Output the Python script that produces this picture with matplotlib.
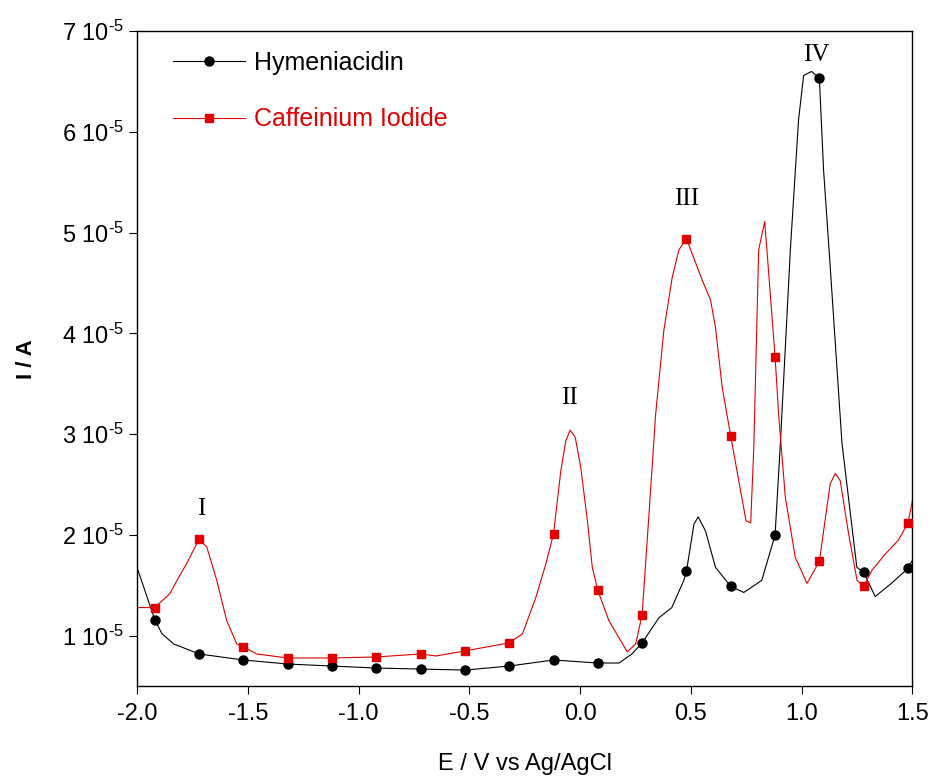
import numpy as np
import matplotlib.pyplot as plt
from matplotlib.ticker import FixedLocator, FuncFormatter

# current in units of 1e-5 A, potential in V
hym_curve_x = [-2.0, -1.92, -1.887, -1.835, -1.72, -1.52, -1.32, -1.12, -0.92, -0.72,
               -0.52, -0.32, -0.12, 0.08, 0.176, 0.234, 0.28, 0.356, 0.414, 0.468,
               0.48, 0.514, 0.533, 0.566, 0.611, 0.68, 0.739, 0.82, 0.88, 0.904,
               0.949, 0.986, 1.009, 1.045, 1.08, 1.099, 1.129, 1.182, 1.249, 1.28,
               1.332, 1.405, 1.48, 1.5]
hym_curve_y = [1.68, 1.16, 1.02, 0.92, 0.82, 0.76, 0.72, 0.70, 0.68, 0.67,
               0.66, 0.70, 0.76, 0.73, 0.73, 0.82, 0.93, 1.18, 1.28, 1.55,
               1.64, 2.11, 2.18, 2.04, 1.68, 1.49, 1.43, 1.55, 2.00, 2.91,
               4.83, 6.12, 6.56, 6.60, 6.53, 5.62, 4.66, 2.91, 1.68, 1.63,
               1.39, 1.52, 1.67, 1.75]

caf_curve_x = [-2.0, -1.92, -1.851, -1.812, -1.775, -1.72, -1.685, -1.64, -1.595, -1.55,
               -1.52, -1.46, -1.32, -1.12, -0.92, -0.72, -0.65, -0.52, -0.32, -0.26,
               -0.2, -0.155, -0.12, -0.087, -0.064, -0.045, -0.022, 0.003, 0.033, 0.055,
               0.08, 0.13, 0.213, 0.251, 0.28, 0.311, 0.341, 0.378, 0.416, 0.446,
               0.48, 0.506, 0.551, 0.589, 0.611, 0.641, 0.68, 0.716, 0.749, 0.77,
               0.784, 0.806, 0.833, 0.848, 0.88, 0.896, 0.926, 0.971, 1.024, 1.047,
               1.08, 1.129, 1.152, 1.174, 1.212, 1.25, 1.28, 1.317, 1.377, 1.437,
               1.48, 1.5]
caf_curve_y = [1.28, 1.28, 1.42, 1.58, 1.72, 1.96, 1.88, 1.55, 1.15, 0.92,
               0.89, 0.82, 0.78, 0.78, 0.79, 0.82, 0.80, 0.85, 0.93, 1.02,
               1.38, 1.71, 2.01, 2.64, 2.94, 3.04, 2.97, 2.67, 2.14, 1.68,
               1.45, 1.15, 0.84, 0.92, 1.21, 2.21, 3.20, 4.03, 4.56, 4.83,
               4.94, 4.79, 4.53, 4.33, 4.06, 3.47, 2.98, 2.54, 2.14, 2.12,
               2.87, 4.83, 5.11, 4.69, 3.77, 3.20, 2.38, 1.78, 1.52, 1.61,
               1.74, 2.51, 2.61, 2.54, 2.01, 1.55, 1.49, 1.65, 1.81, 1.95,
               2.12, 2.34]

marker_x = [-1.92, -1.72, -1.52, -1.32, -1.12, -0.92, -0.72, -0.52, -0.32,
            -0.12, 0.08, 0.28, 0.48, 0.68, 0.88, 1.08, 1.28, 1.48]
hym_marker_y = [1.16, 0.82, 0.76, 0.72, 0.70, 0.68, 0.67, 0.66, 0.70,
                0.76, 0.73, 0.93, 1.64, 1.49, 2.00, 6.53, 1.63, 1.67]
caf_marker_y = [1.28, 1.96, 0.89, 0.78, 0.78, 0.79, 0.82, 0.85, 0.93,
                2.01, 1.45, 1.21, 4.94, 2.98, 3.77, 1.74, 1.49, 2.12]

peak_labels = ["I", "II", "III", "IV"]
peak_x = [-1.71, -0.05, 0.482, 1.067]
peak_y = [2.26, 3.36, 5.33, 6.76]

x_ticks = [-2.0, -1.5, -1.0, -0.5, 0.0, 0.5, 1.0, 1.5]
y_ticks = [1, 2, 3, 4, 5, 6, 7]

RED = "#e00000"
SCALE = 1e-5

plt.rcParams["font.family"] = ["Liberation Sans", "DejaVu Sans"]
plt.rcParams["mathtext.fontset"] = "custom"
plt.rcParams["mathtext.rm"] = "Liberation Sans"
plt.rcParams["mathtext.default"] = "regular"

fig = plt.figure(figsize=(9.32, 7.78), dpi=100)
ax = fig.add_axes([0.147, 0.118, 0.832, 0.842])

ax.plot(np.array(hym_curve_x), np.array(hym_curve_y) * SCALE, color="black", lw=0.8)
ax.plot(np.array(caf_curve_x), np.array(caf_curve_y) * SCALE, color=RED, lw=0.8)
ax.plot(marker_x, np.array(hym_marker_y) * SCALE, "o", color="black", ms=6.5, zorder=5)
ax.plot(marker_x, np.array(caf_marker_y) * SCALE, "s", color=RED, ms=6, zorder=5)

# legend handles
h1, = ax.plot([], [], "-o", color="black", lw=0.8, ms=6.5, label="Hymeniacidin")
h2, = ax.plot([], [], "-s", color=RED, lw=0.8, ms=6, label="Caffeinium Iodide")
leg = ax.legend(handles=[h1, h2], loc="upper left", bbox_to_anchor=(0.017, 1.004),
                frameon=False, fontsize=18, handlelength=2.9, labelspacing=1.3,
                handletextpad=0.35, labelcolor="linecolor")

for lab, px, py in zip(peak_labels, peak_x, peak_y):
    ax.text(px, py * SCALE, lab, family=["Liberation Serif", "DejaVu Serif"],
            fontsize=18, ha="center", va="center")


def ylab(v, p):
    # hyphen instead of math minus, like the original
    return f"{round(v / SCALE):d} 10$^{{\u2010" + "5}$"


ax.set_xlim(-2.0, 1.5)
ax.set_ylim(0.5 * SCALE, 7 * SCALE)
ax.xaxis.set_major_locator(FixedLocator(x_ticks))
ax.yaxis.set_major_locator(FixedLocator([v * SCALE for v in y_ticks]))
ax.xaxis.set_major_formatter(FuncFormatter(lambda v, p: f"{v:.1f}"))
ax.yaxis.set_major_formatter(FuncFormatter(ylab))
ax.tick_params(direction="out", length=6, width=0.8, labelsize=17, top=False, right=False)
ax.tick_params(axis="x", labelsize=17, pad=6)
for s in ax.spines.values():
    s.set_linewidth(1.0)

ax.set_xlabel("E / V vs Ag/AgCl", fontsize=17, labelpad=20)
ax.set_ylabel("I / A", fontsize=16, fontweight="bold", labelpad=18)

fig.savefig("out.png", dpi=100)
